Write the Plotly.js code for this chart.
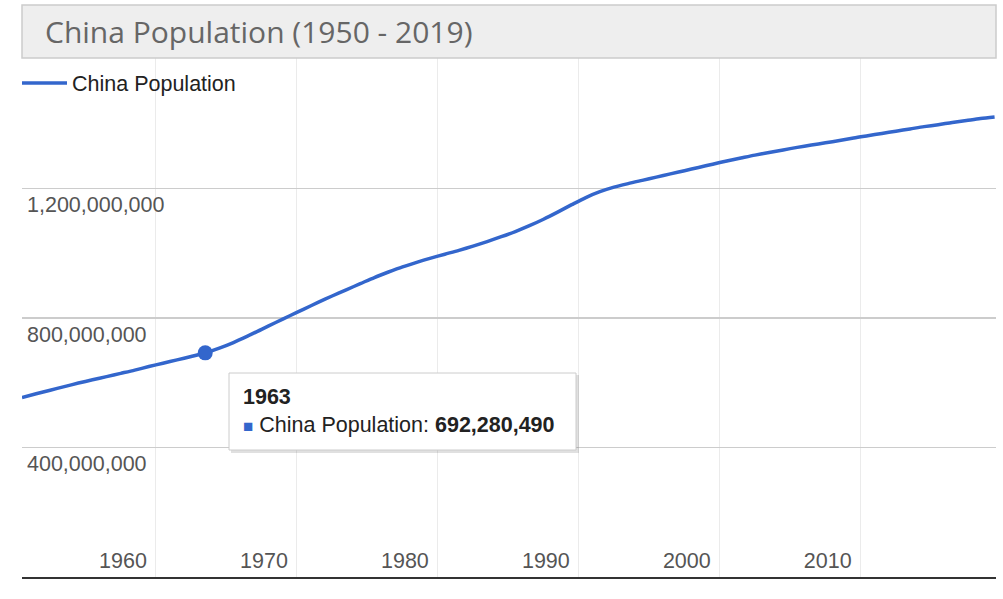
<!DOCTYPE html>
<html>
<head>
<meta charset="utf-8">
<script src="https://cdn.plot.ly/plotly-3.0.1.min.js"></script>
<style>html,body{margin:0;padding:0;background:#fff;}#chart{width:1003px;height:599px;}</style>
</head>
<body>
<div id="chart"></div>
<script>
const years = [1950,1951,1952,1953,1954,1955,1956,1957,1958,1959,
  1960,1961,1962,1963,1964,1965,1966,1967,1968,1969,
  1970,1971,1972,1973,1974,1975,1976,1977,1978,1979,
  1980,1981,1982,1983,1984,1985,1986,1987,1988,1989,
  1990,1991,1992,1993,1994,1995,1996,1997,1998,1999,
  2000,2001,2002,2003,2004,2005,2006,2007,2008,2009,
  2010,2011,2012,2013,2014,2015,2016,2017,2018,2019];
const population = [554400000,566000000,577000000,588000000,599000000,609000000,619000000,629000000,639000000,650000000,
  660400000,670500000,681000000,692280490,707000000,724200000,744000000,765000000,786000000,807000000,
  827600000,848000000,868000000,887000000,906000000,925000000,942000000,958000000,972000000,985000000,
  997000000,1009000000,1022000000,1036000000,1051000000,1067000000,1085000000,1105000000,1127000000,1150000000,
  1172000000,1190000000,1204000000,1215000000,1225000000,1235000000,1245000000,1255000000,1265000000,1275000000,
  1285000000,1294000000,1303000000,1311000000,1319000000,1327000000,1334000000,1341000000,1348000000,1356000000,
  1363000000,1370000000,1377000000,1384000000,1391000000,1397000000,1404000000,1410000000,1416000000,1421000000];
const xTickYears = [1960,1970,1980,1990,2000,2010];
const yTickValues = [400000000,800000000,1200000000];
const yTickLabels = ['400,000,000','800,000,000','1,200,000,000'];
const seriesName = 'China Population';
const chartTitle = 'China Population (1950 - 2019)';
const highlightYear = 1963;

const hi = years.indexOf(highlightYear);
const blue = '#3366cc';
const font = 'Liberation Sans, Arial, sans-serif';

const traces = [
  {x: years, y: population, type: 'scatter', mode: 'lines', name: seriesName,
   line: {color: blue, width: 3.5, shape: 'spline', smoothing: 0.8}},
  {x: [years[hi]], y: [population[hi]], type: 'scatter', mode: 'markers', showlegend: false,
   marker: {color: blue, size: 15}}
];

// pixel helpers for paper coords (plot area: x 22..996, y 58..577)
const L = 22, R = 996, T = 58, B = 577;
const px = v => (v - L) / (R - L);
const py = v => (B - v) / (B - T);

const layout = {
  width: 1003, height: 599,
  margin: {l: L, r: 1003 - R, t: T, b: 599 - B, pad: 0},
  paper_bgcolor: '#ffffff', plot_bgcolor: '#ffffff',
  title: {text: chartTitle, x: 45/1003, xanchor: 'left', xref: 'container',
          y: 1 - 32/599, yanchor: 'middle', yref: 'container',
          font: {family: 'Open Sans, sans-serif', size: 30, color: '#666666'}},
  showlegend: true,
  legend: {x: px(17), xanchor: 'left', y: py(83), yanchor: 'middle', bgcolor: 'rgba(0,0,0,0)',
           itemwidth: 45, font: {family: font, size: 21.5, color: '#222222'}},
  xaxis: {range: [1950, 2019.1], tickvals: xTickYears.map(v => v - 0.5), ticktext: xTickYears.map(String),
          ticklabelposition: 'inside left', ticklabelshift: -8, ticklabelstandoff: 3, ticks: '',
          showgrid: true, gridcolor: '#ebebeb', gridwidth: 1,
          showline: true, linecolor: '#333333', linewidth: 2, zeroline: false, fixedrange: true,
          tickfont: {family: font, size: 21.5, color: '#555555'}},
  yaxis: {range: [0, 1603000000], tickvals: yTickValues, ticktext: yTickLabels,
          side: 'right', anchor: 'free', position: 0,
          ticklabelposition: 'outside', ticklabelshift: 16, ticklabelstandoff: 4, ticks: '',
          showgrid: true, gridcolor: '#cccccc', gridwidth: 1.3,
          showline: false, zeroline: false, fixedrange: true,
          tickfont: {family: font, size: 21.5, color: '#555555'}},
  shapes: [
    {type: 'rect', xref: 'paper', yref: 'paper', x0: 0, x1: 1, y0: 1, y1: py(5),
     fillcolor: '#eeeeee', line: {color: '#cccccc', width: 1.5}, layer: 'above'},
    {type: 'rect', xref: 'paper', yref: 'paper', x0: px(231), x1: px(579), y0: py(453), y1: py(375),
     fillcolor: 'rgba(0,0,0,0.12)', line: {width: 0}, layer: 'above'},
    {type: 'rect', xref: 'paper', yref: 'paper', x0: px(229), x1: px(576), y0: py(450), y1: py(373),
     fillcolor: '#ffffff', line: {color: '#cccccc', width: 1}, layer: 'above'}
  ],
  annotations: [
    {xref: 'paper', yref: 'paper', x: px(242), y: py(411), xanchor: 'left', yanchor: 'middle',
     align: 'left', showarrow: false, borderpad: 0,
     text: '<b>' + highlightYear + '</b><br><span style="color:' + blue + ';font-size:17px">■</span> ' +
           seriesName + ': <b>' + population[hi].toLocaleString('en-US') + '</b>',
     font: {family: font, size: 21.5, color: '#222222'}}
  ],
  hovermode: false
};

Plotly.newPlot('chart', traces, layout, {displayModeBar: false, staticPlot: true});
</script>
</body>
</html>
